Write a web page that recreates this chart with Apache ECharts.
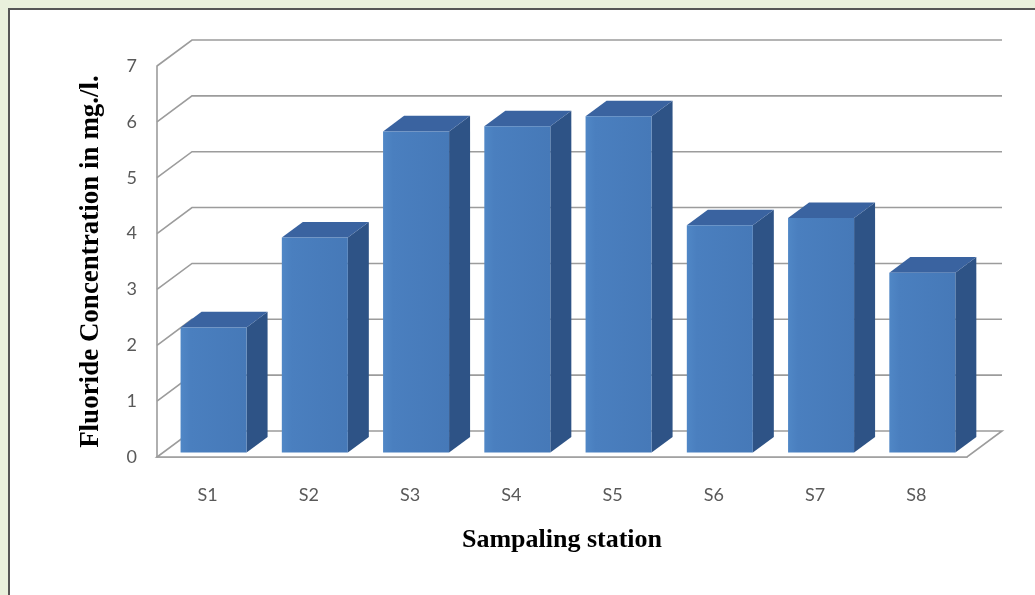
<!DOCTYPE html>
<html>
<head>
<meta charset="utf-8">
<title>Fluoride Concentration by Sampling Station</title>
<script src="https://cdn.jsdelivr.net/npm/echarts@6/dist/echarts.min.js"></script>
<style>
  html, body { margin: 0; padding: 0; background: #e9f0dc; }
  #chart { width: 1035px; height: 595px; }
</style>
</head>
<body>
<div id="chart"></div>
<script>
// Sampling stations and measured fluoride (mg/l)
const categories = ['S1', 'S2', 'S3', 'S4', 'S5', 'S6', 'S7', 'S8'];
const fluoride = [2.24, 3.85, 5.75, 5.84, 6.02, 4.07, 4.2, 3.22];
const yTicks = [0, 1, 2, 3, 4, 5, 6, 7];

// Oblique 3D projection: full depth of the floor in pixels
const DX = 35, DY = 26;
// Bar depth span as fractions of the floor depth
const DF = 0.17, DB = 0.77;
const GRID_COLOR = '#9c9c9c';

const chart = echarts.init(document.getElementById('chart'));

function renderWall(params, api) {
  const cs = params.coordSys;
  const v = api.value(1);
  const y = api.coord([0, v])[1];
  const left = cs.x, right = cs.x + cs.width;
  if (v === 0) {
    return {
      type: 'polygon',
      shape: { points: [[left, y], [right, y], [right + DX, y - DY], [left + DX, y - DY]] },
      style: { fill: '#ffffff', stroke: GRID_COLOR, lineWidth: 1.6 }
    };
  }
  return {
    type: 'polyline',
    shape: { points: [[left, y], [left + DX, y - DY], [right + DX, y - DY]] },
    style: { stroke: GRID_COLOR, lineWidth: 1.6, fill: null }
  };
}

function renderBar(params, api) {
  const i = api.value(0), v = api.value(1);
  const base = api.coord([i, 0]);
  const top = api.coord([i, v]);
  const band = api.size([1, 0])[0];
  const hw = band * 0.326;
  const xl = base[0] - hw, xr = base[0] + hw;
  const f = (x, y, d) => [x + DX * d, y - DY * d];
  const fl0 = f(xl, base[1], DF), fr0 = f(xr, base[1], DF);
  const flT = f(xl, top[1], DF), frT = f(xr, top[1], DF);
  const blT = f(xl, top[1], DB), brT = f(xr, top[1], DB);
  const br0 = f(xr, base[1], DB);
  return {
    type: 'group',
    children: [
      {
        type: 'polygon',
        shape: { points: [fr0, frT, brT, br0] },
        style: { fill: '#2e5386' }
      },
      {
        type: 'polygon',
        shape: { points: [flT, frT, brT, blT] },
        style: { fill: '#3a63a0' }
      },
      {
        type: 'polygon',
        shape: { points: [fl0, flT, frT, fr0] },
        style: {
          fill: new echarts.graphic.LinearGradient(0, 0, 1, 0, [
            { offset: 0, color: '#5087c6' },
            { offset: 0.15, color: '#4a7fbf' },
            { offset: 1, color: '#4679b8' }
          ])
        }
      }
    ]
  };
}

const option = {
  backgroundColor: '#e9f0dc',
  animation: false,
  graphic: [
    {
      type: 'rect',
      silent: true,
      z: -10,
      shape: { x: 9, y: 9, width: 1060, height: 620 },
      style: { fill: '#ffffff', stroke: '#555555', lineWidth: 2 }
    }
  ],
  grid: { left: 157, right: 68, top: 66, bottom: 138 },
  xAxis: {
    type: 'category',
    data: categories,
    axisLine: { show: true, lineStyle: { color: GRID_COLOR, width: 1.6 } },
    axisTick: { show: false },
    splitLine: { show: false },
    axisLabel: { margin: 29, color: '#595959', fontFamily: 'Lato', fontSize: 18 },
    name: 'Sampaling station',
    nameLocation: 'middle',
    nameGap: 70,
    nameTextStyle: { fontFamily: 'Liberation Serif', fontWeight: 'bold', fontSize: 26, color: '#000' }
  },
  yAxis: {
    type: 'value',
    min: 0,
    max: 7,
    interval: 1,
    axisLine: { show: true, lineStyle: { color: GRID_COLOR, width: 1.6 } },
    axisTick: { show: false },
    splitLine: { show: false },
    axisLabel: { margin: 20, color: '#595959', fontFamily: 'Lato', fontSize: 18 },
    name: 'Fluoride Concentration in mg./l.',
    nameLocation: 'middle',
    nameRotate: 90,
    nameGap: 52,
    nameTextStyle: { fontFamily: 'Liberation Serif', fontWeight: 'bold', fontSize: 27, color: '#000' }
  },
  series: [
    {
      type: 'custom',
      name: 'walls',
      z: 1,
      silent: true,
      renderItem: renderWall,
      data: yTicks.map(v => [0, v])
    },
    {
      type: 'custom',
      name: 'Fluoride',
      z: 3,
      renderItem: renderBar,
      data: fluoride.map((v, i) => [i, v])
    }
  ]
};

chart.setOption(option);
</script>
</body>
</html>
